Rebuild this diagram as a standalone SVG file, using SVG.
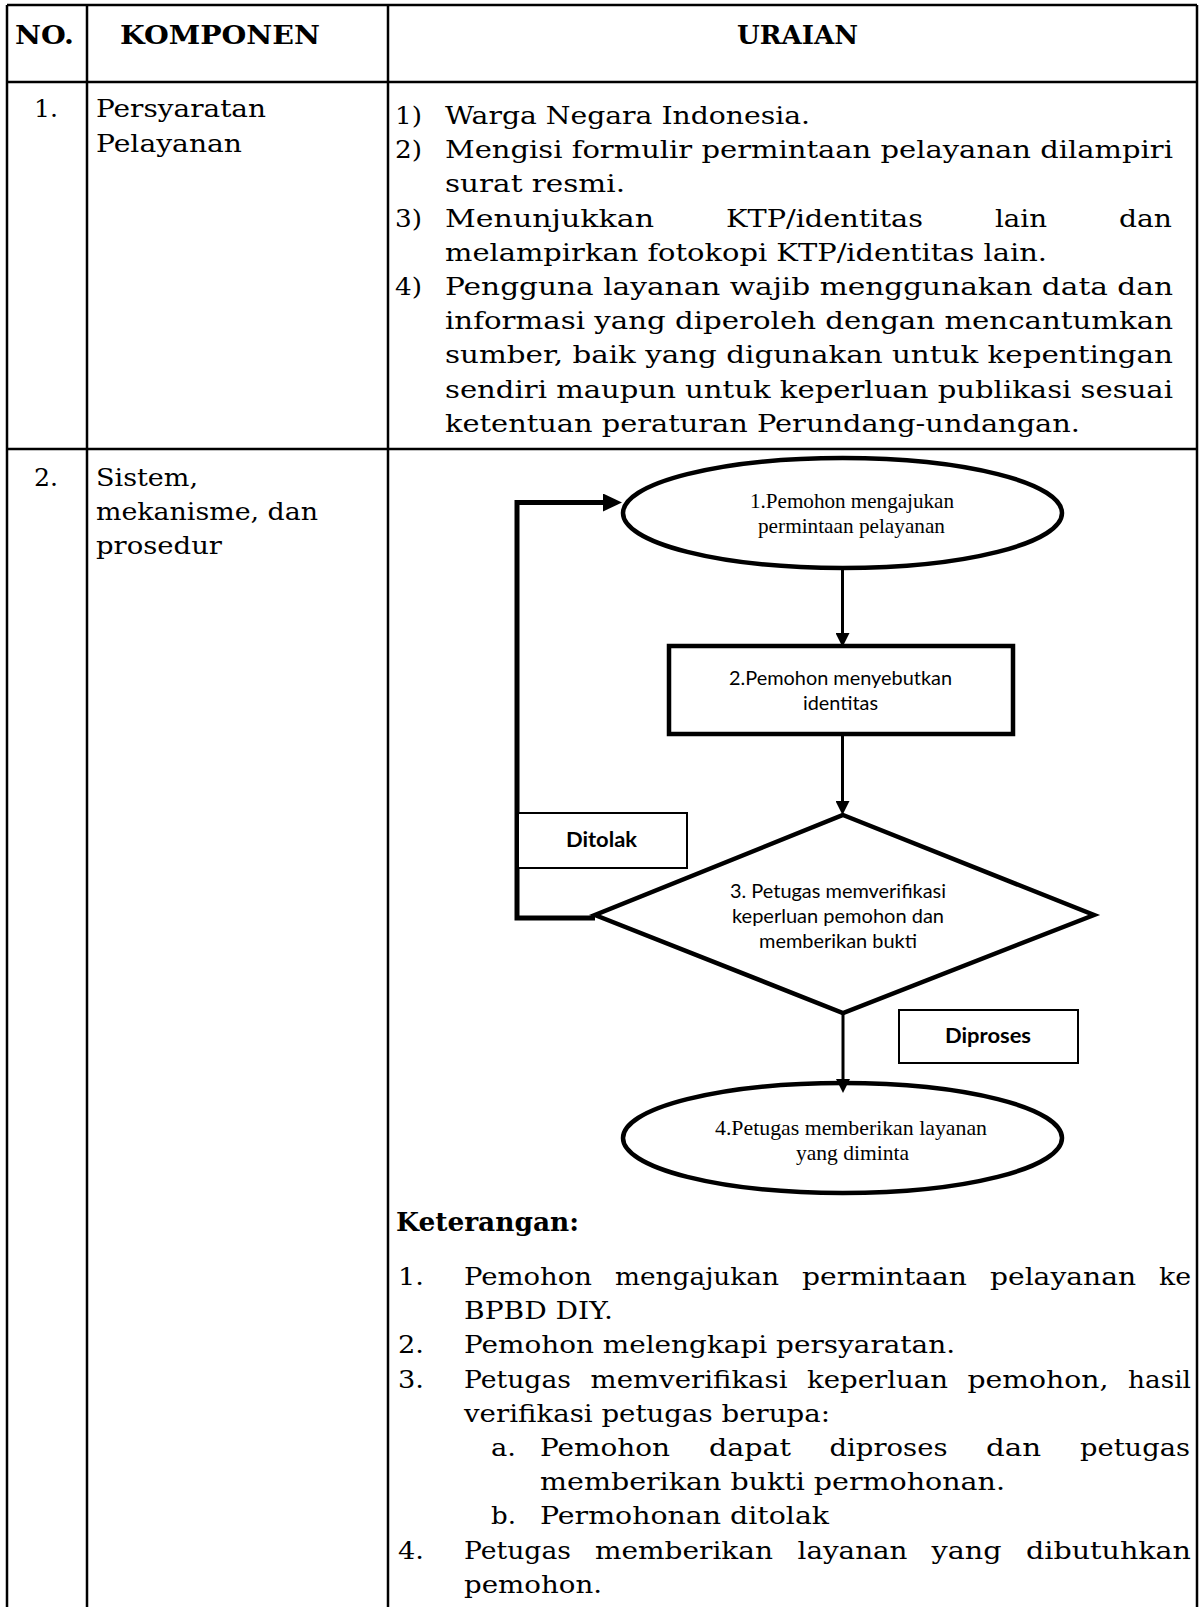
<svg xmlns="http://www.w3.org/2000/svg" width="1200" height="1607" viewBox="0 0 1200 1607">
  <style>
    .grid{stroke:#000;stroke-width:2.5;fill:none}
    .hd{font-family:"DejaVu Serif",serif;font-weight:bold;font-size:26.5px;fill:#000}
    .bd{font-family:"DejaVu Serif",serif;font-size:24px;fill:#000}
    .tm{font-family:"Liberation Serif","Times New Roman",serif;font-size:21.5px;fill:#000}
    .cb{font-family:Lato,"Open Sans",sans-serif;font-size:20px;fill:#000}
    .cbb{font-family:Lato,"Open Sans",sans-serif;font-size:21px;font-weight:bold;fill:#000}
    .shape{fill:#fff;stroke:#000;stroke-width:4.5}
    .lbl{fill:#fff;stroke:#000;stroke-width:2}
    .flow{stroke:#000;stroke-width:3;fill:none}
    .loop{stroke:#000;stroke-width:5;fill:none}
  </style>
  <defs>
    <marker id="ah" viewBox="0 0 14 14" refX="0" refY="7" markerWidth="14" markerHeight="14" markerUnits="userSpaceOnUse" orient="auto">
      <path d="M0,0 L14,7 L0,14 Z" fill="#000"/>
    </marker>
    <marker id="ahL" viewBox="0 0 19 18" refX="0" refY="9" markerWidth="19" markerHeight="18" markerUnits="userSpaceOnUse" orient="auto">
      <path d="M0,0 L19,9 L0,18 Z" fill="#000"/>
    </marker>
  </defs>

  <rect x="0" y="0" width="1200" height="1607" fill="#fff"/>

  <!-- table rules -->
  <g id="table" class="grid">
    <line x1="7" y1="5" x2="1197" y2="5"/>
    <line x1="7" y1="82" x2="1197" y2="82"/>
    <line x1="7" y1="449" x2="1197" y2="449"/>
    <line x1="7" y1="5" x2="7" y2="1607"/>
    <line x1="87" y1="5" x2="87" y2="1607"/>
    <line x1="388" y1="5" x2="388" y2="1607"/>
    <line x1="1197" y1="5" x2="1197" y2="1607"/>
  </g>

  <!-- header row -->
  <g id="header">
    <text class="hd" x="15" y="44" textLength="59" lengthAdjust="spacingAndGlyphs">NO.</text>
    <text class="hd" x="120" y="44" textLength="200" lengthAdjust="spacingAndGlyphs">KOMPONEN</text>
    <text class="hd" x="737" y="44" textLength="121" lengthAdjust="spacingAndGlyphs">URAIAN</text>
  </g>

  <!-- row 1 -->
  <g id="row1">
    <text class="bd" x="34" y="117" textLength="24" lengthAdjust="spacingAndGlyphs">1.</text>
    <text class="bd" x="96" y="117" textLength="170" lengthAdjust="spacingAndGlyphs">Persyaratan</text>
    <text class="bd" x="96" y="152" textLength="146" lengthAdjust="spacingAndGlyphs">Pelayanan</text>

    <text class="bd" x="395" y="124" textLength="27" lengthAdjust="spacingAndGlyphs">1)</text>
    <text class="bd" x="445" y="124" textLength="365" lengthAdjust="spacingAndGlyphs">Warga Negara Indonesia.</text>
    <text class="bd" x="395" y="158" textLength="27" lengthAdjust="spacingAndGlyphs">2)</text>
    <text class="bd" x="445" y="158" textLength="728" lengthAdjust="spacingAndGlyphs">Mengisi formulir permintaan pelayanan dilampiri</text>
    <text class="bd" x="445" y="192" textLength="180" lengthAdjust="spacingAndGlyphs">surat resmi.</text>
    <text class="bd" x="395" y="227" textLength="27" lengthAdjust="spacingAndGlyphs">3)</text>
    <text class="bd" x="445" y="227" textLength="209" lengthAdjust="spacingAndGlyphs">Menunjukkan</text>
    <text class="bd" x="726" y="227" textLength="197" lengthAdjust="spacingAndGlyphs">KTP/identitas</text>
    <text class="bd" x="995" y="227" textLength="52" lengthAdjust="spacingAndGlyphs">lain</text>
    <text class="bd" x="1119" y="227" textLength="53" lengthAdjust="spacingAndGlyphs">dan</text>
    <text class="bd" x="445" y="261" textLength="602" lengthAdjust="spacingAndGlyphs">melampirkan fotokopi KTP/identitas lain.</text>
    <text class="bd" x="395" y="295" textLength="27" lengthAdjust="spacingAndGlyphs">4)</text>
    <text class="bd" x="445" y="295" textLength="728" lengthAdjust="spacingAndGlyphs">Pengguna layanan wajib menggunakan data dan</text>
    <text class="bd" x="445" y="329" textLength="728" lengthAdjust="spacingAndGlyphs">informasi yang diperoleh dengan mencantumkan</text>
    <text class="bd" x="445" y="363" textLength="728" lengthAdjust="spacingAndGlyphs">sumber, baik yang digunakan untuk kepentingan</text>
    <text class="bd" x="445" y="398" textLength="728" lengthAdjust="spacingAndGlyphs">sendiri maupun untuk keperluan publikasi sesuai</text>
    <text class="bd" x="445" y="432" textLength="635" lengthAdjust="spacingAndGlyphs">ketentuan peraturan Perundang-undangan.</text>
  </g>

  <!-- row 2, left columns -->
  <g id="row2">
    <text class="bd" x="34" y="486" textLength="24" lengthAdjust="spacingAndGlyphs">2.</text>
    <text class="bd" x="96" y="486" textLength="102" lengthAdjust="spacingAndGlyphs">Sistem,</text>
    <text class="bd" x="96" y="520" textLength="222" lengthAdjust="spacingAndGlyphs">mekanisme, dan</text>
    <text class="bd" x="96" y="554" textLength="126" lengthAdjust="spacingAndGlyphs">prosedur</text>
  </g>

  <!-- flowchart nodes -->
  <g id="n1">
    <ellipse class="shape" cx="842.5" cy="513" rx="219.5" ry="55"/>
    <text class="tm" x="750" y="508" textLength="204" lengthAdjust="spacingAndGlyphs">1.Pemohon mengajukan</text>
    <text class="tm" x="758" y="533" textLength="187" lengthAdjust="spacingAndGlyphs">permintaan pelayanan</text>
  </g>
  <g id="n2">
    <rect class="shape" x="669" y="646" width="344" height="88"/>
    <text class="cb" x="729" y="685" textLength="223" lengthAdjust="spacingAndGlyphs">2.Pemohon menyebutkan</text>
    <text class="cb" x="803" y="710" textLength="75" lengthAdjust="spacingAndGlyphs">identitas</text>
  </g>
  <g id="n3">
    <polygon class="shape" points="843,815 1094,915 843,1013 595,915"/>
    <text class="cb" x="730" y="898" textLength="216" lengthAdjust="spacingAndGlyphs">3. Petugas memverifikasi</text>
    <text class="cb" x="732" y="923" textLength="212" lengthAdjust="spacingAndGlyphs">keperluan pemohon dan</text>
    <text class="cb" x="759" y="948" textLength="158" lengthAdjust="spacingAndGlyphs">memberikan bukti</text>
  </g>
  <g id="n4">
    <ellipse class="shape" cx="842.5" cy="1138" rx="219.5" ry="55"/>
    <text class="tm" x="715" y="1135" textLength="272" lengthAdjust="spacingAndGlyphs">4.Petugas memberikan layanan</text>
    <text class="tm" x="796" y="1160" textLength="113" lengthAdjust="spacingAndGlyphs">yang diminta</text>
  </g>

  <!-- connectors -->
  <g id="connectors">
    <path class="loop" d="M595,918 H517 V502.5 H603" marker-end="url(#ahL)"/>
    <path class="flow" d="M842.5,568 V633" marker-end="url(#ah)"/>
    <path class="flow" d="M842.5,734 V801" marker-end="url(#ah)"/>
    <path class="flow" d="M843,1013 V1079" marker-end="url(#ah)"/>
  </g>

  <!-- branch labels -->
  <g id="lbl-ditolak">
    <rect class="lbl" x="518" y="813" width="169" height="55"/>
    <text class="cbb" x="566" y="847" textLength="71" lengthAdjust="spacingAndGlyphs">Ditolak</text>
  </g>
  <g id="lbl-diproses">
    <rect class="lbl" x="899" y="1010" width="179" height="53"/>
    <text class="cbb" x="945" y="1043" textLength="86" lengthAdjust="spacingAndGlyphs">Diproses</text>
  </g>

  <!-- legend -->
  <g id="keterangan">
    <text class="hd" x="396" y="1231" textLength="183" lengthAdjust="spacingAndGlyphs">Keterangan:</text>

    <text class="bd" x="398" y="1285" textLength="26" lengthAdjust="spacingAndGlyphs">1.</text>
    <text class="bd" x="464" y="1285" textLength="128" lengthAdjust="spacingAndGlyphs">Pemohon</text>
    <text class="bd" x="615" y="1285" textLength="164" lengthAdjust="spacingAndGlyphs">mengajukan</text>
    <text class="bd" x="802" y="1285" textLength="165" lengthAdjust="spacingAndGlyphs">permintaan</text>
    <text class="bd" x="990" y="1285" textLength="146" lengthAdjust="spacingAndGlyphs">pelayanan</text>
    <text class="bd" x="1159" y="1285" textLength="32" lengthAdjust="spacingAndGlyphs">ke</text>
    <text class="bd" x="464" y="1319" textLength="149" lengthAdjust="spacingAndGlyphs">BPBD DIY.</text>

    <text class="bd" x="398" y="1353" textLength="26" lengthAdjust="spacingAndGlyphs">2.</text>
    <text class="bd" x="464" y="1353" textLength="491" lengthAdjust="spacingAndGlyphs">Pemohon melengkapi persyaratan.</text>

    <text class="bd" x="398" y="1388" textLength="26" lengthAdjust="spacingAndGlyphs">3.</text>
    <text class="bd" x="464" y="1388" textLength="107" lengthAdjust="spacingAndGlyphs">Petugas</text>
    <text class="bd" x="590.5" y="1388" textLength="197" lengthAdjust="spacingAndGlyphs">memverifikasi</text>
    <text class="bd" x="807" y="1388" textLength="141" lengthAdjust="spacingAndGlyphs">keperluan</text>
    <text class="bd" x="967.5" y="1388" textLength="141" lengthAdjust="spacingAndGlyphs">pemohon,</text>
    <text class="bd" x="1128" y="1388" textLength="63" lengthAdjust="spacingAndGlyphs">hasil</text>
    <text class="bd" x="464" y="1422" textLength="366" lengthAdjust="spacingAndGlyphs">verifikasi petugas berupa:</text>

    <text class="bd" x="491" y="1456" textLength="25" lengthAdjust="spacingAndGlyphs">a.</text>
    <text class="bd" x="540" y="1456" textLength="130" lengthAdjust="spacingAndGlyphs">Pemohon</text>
    <text class="bd" x="709" y="1456" textLength="82" lengthAdjust="spacingAndGlyphs">dapat</text>
    <text class="bd" x="829.5" y="1456" textLength="118" lengthAdjust="spacingAndGlyphs">diproses</text>
    <text class="bd" x="986" y="1456" textLength="55" lengthAdjust="spacingAndGlyphs">dan</text>
    <text class="bd" x="1080" y="1456" textLength="110" lengthAdjust="spacingAndGlyphs">petugas</text>
    <text class="bd" x="540" y="1490" textLength="465" lengthAdjust="spacingAndGlyphs">memberikan bukti permohonan.</text>

    <text class="bd" x="491" y="1524" textLength="25" lengthAdjust="spacingAndGlyphs">b.</text>
    <text class="bd" x="540" y="1524" textLength="289" lengthAdjust="spacingAndGlyphs">Permohonan ditolak</text>

    <text class="bd" x="398" y="1559" textLength="26" lengthAdjust="spacingAndGlyphs">4.</text>
    <text class="bd" x="464" y="1559" textLength="107" lengthAdjust="spacingAndGlyphs">Petugas</text>
    <text class="bd" x="595" y="1559" textLength="178" lengthAdjust="spacingAndGlyphs">memberikan</text>
    <text class="bd" x="797.5" y="1559" textLength="110" lengthAdjust="spacingAndGlyphs">layanan</text>
    <text class="bd" x="931.5" y="1559" textLength="70" lengthAdjust="spacingAndGlyphs">yang</text>
    <text class="bd" x="1026" y="1559" textLength="165" lengthAdjust="spacingAndGlyphs">dibutuhkan</text>
    <text class="bd" x="464" y="1593" textLength="138" lengthAdjust="spacingAndGlyphs">pemohon.</text>
  </g>
</svg>
